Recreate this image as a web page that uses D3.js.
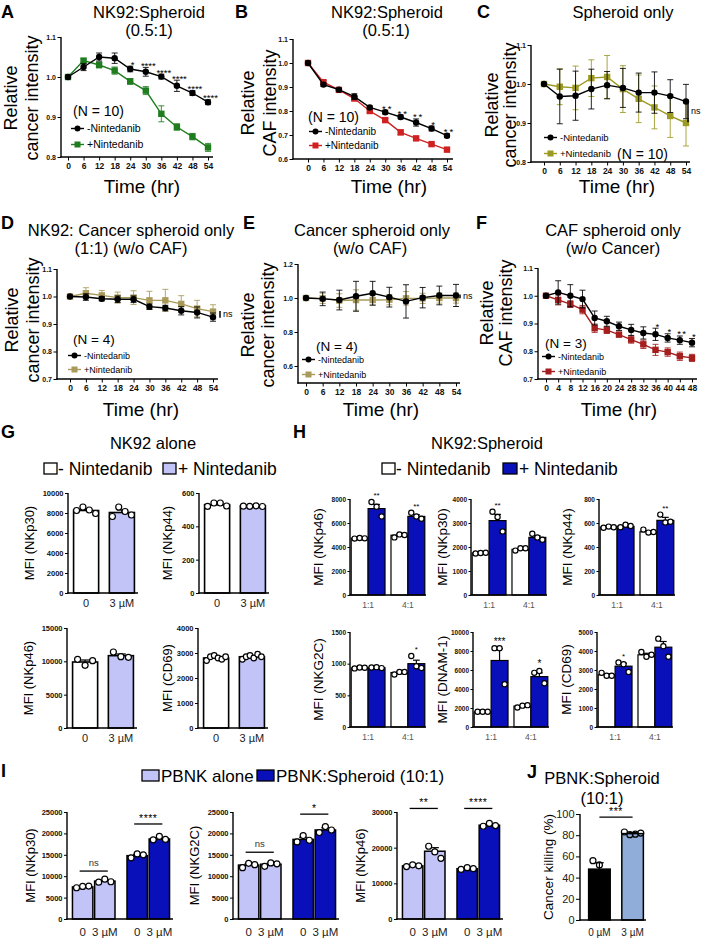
<!DOCTYPE html>
<html><head><meta charset="utf-8">
<script src="https://cdn.jsdelivr.net/npm/d3@7"></script>
<style>body{margin:0;background:#fff} svg{display:block}</style>
</head><body><svg id="c" width="702" height="938"></svg>
<script>
// ---------------- DATA ----------------
const timesAE = [0,6,12,18,24,30,36,42,48,54];
const timesF = [0,4,8,12,16,20,24,28,32,36,40,44,48];

const aMinus = [1.000,1.025,1.050,1.047,1.020,1.013,1.001,0.978,0.960,0.937];
const aMinusErr = [0,0.009,0.010,0.013,0.007,0.011,0.006,0.014,0.006,0.006];
const aPlus = [1.000,1.041,1.030,1.016,0.989,0.966,0.908,0.875,0.851,0.824];
const aPlusErr = [0,0.004,0.007,0.009,0.007,0.010,0.020,0.008,0.008,0.010];
const aStars = ["","","","","*","****","****","****","****","****"];

const bMinus = [1.000,0.910,0.889,0.860,0.815,0.795,0.775,0.752,0.727,0.697];
const bMinusErr = [0,0.008,0.004,0.012,0.006,0.008,0.008,0.015,0.010,0.008];
const bPlus = [1.000,0.920,0.888,0.852,0.800,0.762,0.711,0.686,0.662,0.639];
const bPlusErr = [0,0.006,0.004,0.008,0.006,0.007,0.010,0.006,0.005,0.005];
const bStars = ["","","","","","**","**","**","*","**"];

const cMinus = [1.000,0.968,0.970,0.987,0.997,0.990,0.978,0.978,0.969,0.955];
const cMinusErr = [0,0.070,0.063,0.051,0.035,0.050,0.050,0.053,0.042,0.044];
const cPlus = [1.000,0.993,0.990,1.015,1.018,0.987,0.962,0.940,0.918,0.900];
const cPlusErr = [0,0.046,0.056,0.047,0.055,0.060,0.061,0.055,0.055,0.059];

const dMinus = [1.000,0.998,0.992,0.990,0.990,0.963,0.958,0.948,0.942,0.925];
const dMinusErr = [0,0.012,0.008,0.012,0.012,0.010,0.010,0.015,0.020,0.015];
const dPlus = [1.000,1.012,1.004,0.996,0.996,0.986,0.986,0.973,0.956,0.945];
const dPlusErr = [0,0.020,0.018,0.020,0.025,0.033,0.040,0.030,0.030,0.025];

const eMinus = [1.000,0.995,0.988,1.010,1.028,1.005,0.980,1.002,1.015,1.015];
const eMinusErr = [0,0.040,0.058,0.088,0.070,0.058,0.098,0.060,0.055,0.065];
const ePlus = [1.000,0.998,0.985,0.988,0.988,0.990,0.998,0.998,1.000,1.000];
const ePlusErr = [0,0.030,0.040,0.060,0.030,0.030,0.040,0.030,0.030,0.030];

const fMinus = [1.000,1.012,1.000,0.988,0.920,0.908,0.890,0.877,0.866,0.861,0.848,0.840,0.831];
const fMinusErr = [0,0.042,0.040,0.032,0.025,0.018,0.015,0.020,0.022,0.022,0.015,0.015,0.015];
const fPlus = [1.000,0.985,0.970,0.950,0.883,0.876,0.860,0.842,0.825,0.805,0.797,0.782,0.776];
const fPlusErr = [0,0.018,0.012,0.015,0.015,0.012,0.008,0.013,0.015,0.020,0.015,0.015,0.013];
const fStars = ["","","","","","","","","","*","*","**","*"];

// G: NK92 alone (0, 3 µM)
const gCats = ["0","3 µM"];
const gNKp30 = [8250,8050], gNKp30Err = [150,250], gNKp30Dots = [[8250,8600,8300,7950],[7650,8600,8150,7800]];
const gNKp44 = [530,522], gNKp44Err = [6,2], gNKp44Dots = [[520,540,540,522],[521,520,523,519]];
const gNKp46 = [9900,10850], gNKp46Err = [300,250], gNKp46Dots = [[10300,9400,10100],[11400,10700,10600]];
const gCD69 = [2800,2850], gCD69Err = [40,40], gCD69Dots = [[2700,2850,2900,2800,2750,2850],[2750,2850,2900,2800,2950,2850]];

// H: NK92:Spheroid  order: [1:1 -, 1:1 +, 4:1 -, 4:1 +]
const hGroups = ["1:1","4:1"];
const hNKp46 = [4730,7200,4980,6550], hNKp46Err = [20,350,80,150], hNKp46Dots = [[4700,4750,4720],[7750,7350,6550],[4800,5050,5000],[6850,6550,6350]];
const hNKp30 = [1750,3100,1900,2400], hNKp30Err = [10,260,40,60], hNKp30Dots = [[1730,1750,1760],[3470,3250,2650],[1850,1950,1950],[2550,2400,2300]];
const hNKp44 = [565,572,527,622], hNKp44Err = [3,5,8,25], hNKp44Dots = [[560,570,565],[565,585,575],[545,520,525],[670,605,610]];
const hNKG2C = [932,936,860,1000], hNKG2C_Err = [5,5,12,55], hNKG2CDots = [[925,940,935],[940,945,930],[830,870,870],[1120,960,930]];
const hDNAM = [1600,7000,2200,5300], hDNAMErr = [10,1250,70,400], hDNAMDots = [[1600,1600,1600],[8300,8300,4500],[2050,2250,2300],[5700,5900,4600]];
const hCD69 = [2750,3200,3800,4200], hCD69Err = [50,150,80,300], hCD69Dots = [[2850,2700,2700],[3400,3300,2900],[3950,3700,3800],[4650,4250,3700]];
const hNKp46Stars = ["","**","","**"], hNKp30Stars = ["","**","",""], hNKp44Stars = ["","","","**"];
const hNKG2CStars = ["","","","*"], hDNAMStars = ["","***","","*"], hCD69Stars = ["","*","",""];

// I: PBNK  order: [alone 0, alone 3 µM, spheroid 0, spheroid 3 µM]
const iGroups = ["PBNK alone","PBNK:Spheroid (10:1)"];
const iDoses = ["0","3 µM"];
const iNKp30 = [7500,8850,14800,18700], iNKp30Err = [150,250,300,250], iNKp30Dots = [[7300,7600,7700],[8600,9300,8700],[14300,15200,15000],[18500,19300,18600]];
const iNKG2C = [12600,12800,18600,20800], iNKG2CErr = [300,250,500,500], iNKG2CDots = [[12000,13000,12700],[12300,13100,12900],[18000,19500,18400],[20200,21600,20800]];
const iNKp46 = [14900,19000,14100,26300], iNKp46Err = [200,1000,200,300], iNKp46Dots = [[14700,15200,14900],[20400,18800,17000],[13900,14400,14100],[26000,26800,26200]];
const iNKp30Sig = [{g:0,label:"ns",v:11200},{g:1,label:"****",v:22200}];
const iNKG2CSig = [{g:0,label:"ns",v:15600},{g:1,label:"*",v:24500}];
const iNKp46Sig = [{g:0,label:"**",v:31000},{g:1,label:"****",v:31000}];

// J: Cancer killing
const jCats = ["0 µM","3 µM"];
const jKill = [48,81.5], jKillErr = [6,1], jKillDots = [[56,52,36],[83,80.5,81,82]];
const jSig = {label:"***", v:97};

// ---------------- DRAWING ----------------
const FONT = "Arial, 'Liberation Sans', Helvetica, sans-serif";
const svg = d3.select("#c").attr("font-family", FONT);
const GREEN="#1f7d1f", RED="#cf2121", OLIVE="#9c9a22", KHAKI="#a99a5a", DRED="#a51d1d";
const LAV="#c2c3f7", BLUE="#0a10b9", STEEL="#8fadd8";

function txt(x,y,s,o={}){
  const t = svg.append("text").attr("x",x).attr("y",y).text(s)
    .attr("font-size",o.size||12).attr("font-weight",o.weight||"normal")
    .attr("text-anchor",o.anchor||"start").attr("fill",o.fill||"#000");
  if(o.rot) t.attr("transform",`rotate(-90,${x},${y})`);
  if(o.db) t.attr("dominant-baseline",o.db);
  if(o.ls) t.attr("letter-spacing",o.ls);
  return t;
}
function styleAxis(sel,size,weight,fill){
  sel.attr("font-family",FONT);
  sel.selectAll("text").attr("font-size",size).attr("font-weight",weight).attr("fill",fill||"#111");
  sel.selectAll(".tick line").attr("stroke","#000").attr("stroke-width",1);
}
function marker(g,shape,cx,cy,c,sz){
  if(shape==="circle") g.append("circle").attr("cx",cx).attr("cy",cy).attr("r",sz/2).attr("fill",c);
  else g.append("rect").attr("x",cx-sz/2).attr("y",cy-sz/2).attr("width",sz).attr("height",sz).attr("fill",c);
}

function lineChart(o){
  const g = svg.append("g");
  const x = d3.scaleLinear().domain([o.times[0],o.times[o.times.length-1]]).range(o.xr);
  const y = d3.scaleLinear().domain(o.yd).range(o.yr);
  const ya = g.append("g").attr("transform",`translate(${o.ax},0)`)
    .call(d3.axisLeft(y).tickValues(o.yt).tickFormat(d3.format(".1f")).tickSize(3.5).tickPadding(1.5));
  ya.select(".domain").remove(); styleAxis(ya,7,"bold");
  g.append("line").attr("x1",o.ax).attr("x2",o.ax).attr("y1",y(o.yd[1])).attr("y2",y(o.yd[0])+0.6).attr("stroke","#000").attr("stroke-width",1.4);
  const xa = g.append("g").attr("transform",`translate(0,${y(o.yd[0])})`)
    .call(d3.axisBottom(x).tickValues(o.times).tickFormat(d3.format("d")).tickSize(3.5).tickPadding(2.5));
  xa.select(".domain").remove(); styleAxis(xa,8.5,"bold");
  g.append("line").attr("x1",o.ax-0.7).attr("x2",o.axEnd).attr("y1",y(o.yd[0])).attr("y2",y(o.yd[0])).attr("stroke","#000").attr("stroke-width",1.4);
  o.series.forEach(s=>{
    const pts = o.times.map((t,i)=>({t,v:s.v[i],e:s.e[i]}));
    pts.forEach(p=>{
      if(p.e>0){
        const cx=x(p.t);
        g.append("line").attr("x1",cx).attr("x2",cx).attr("y1",y(p.v-p.e)).attr("y2",y(p.v+p.e)).attr("stroke",s.c).attr("stroke-width",1).attr("opacity",0.85);
        [p.v-p.e,p.v+p.e].forEach(vv=>g.append("line").attr("x1",cx-3).attr("x2",cx+3).attr("y1",y(vv)).attr("y2",y(vv)).attr("stroke",s.c).attr("stroke-width",1).attr("opacity",0.85));
      }
    });
    g.append("path").datum(pts).attr("d",d3.line().x(p=>x(p.t)).y(p=>y(p.v))).attr("fill","none").attr("stroke",s.c).attr("stroke-width",1.4);
    pts.forEach(p=>marker(g,s.shape,x(p.t),y(p.v),s.c,6.4));
  });
  if(o.stars){
    const ref = o.series[o.starRef];
    o.stars.forEach((st,i)=>{ if(st) txt(x(o.times[i])+2.5, y(ref.v[i]+ref.e[i])+1.5, st, {size:9.5,anchor:"middle",ls:o.starLs||0}); });
  }
  if(o.ns){
    const [v1,v2] = o.ns.vals;
    g.append("line").attr("x1",o.ns.x).attr("x2",o.ns.x).attr("y1",y(v1)).attr("y2",y(v2)).attr("stroke","#000").attr("stroke-width",1.5);
    txt(o.ns.x+3, (y(v1)+y(v2))/2+3, "ns", {size:9});
  }
  const L=o.leg;
  [[L.y1,"-Nintedanib",o.series[o.starRef]],[L.y2,"+Nintedanib",o.series[1-o.starRef]]].forEach(([yy,lab,s])=>{
    g.append("line").attr("x1",L.x).attr("x2",L.x+13).attr("y1",yy-3.5).attr("y2",yy-3.5).attr("stroke",s.c).attr("stroke-width",1.4);
    marker(g,s.shape,L.x+6.5,yy-3.5,s.c,6);
    txt(L.x+16,yy,lab,{size:L.size});
  });
  txt(L.nx,L.ny,L.nlab,{size:L.nsize});
  o.title.forEach(t=>txt(t[0],t[1],t[2],{size:16.5,anchor:"middle"}));
  txt(o.letter[0],o.letter[1],o.letter[2],{size:18,weight:"bold"});
  txt(o.timeX,o.timeY,"Time (hr)",{size:19,anchor:"middle"});
  o.ylab.forEach(t=>txt(t[0],t[1],t[2],{size:18,anchor:"middle",rot:true,db:"central"}));
}

lineChart({times:timesAE, ax:61, axEnd:213, xr:[68,208], yd:[0.8,1.1], yr:[157,37], yt:[0.8,0.9,1.0,1.1],
  series:[{v:aPlus,e:aPlusErr,c:GREEN,shape:"square"},{v:aMinus,e:aMinusErr,c:"#000",shape:"circle"}], starRef:1, stars:aStars,
  leg:{x:71,y1:132,y2:148,size:10.5,nx:73,ny:116,nsize:14,nlab:"(N = 10)"},
  title:[[149,18,"NK92:Spheroid"],[149,36,"(0.5:1)"]], letter:[1,18,"A"], timeX:142, timeY:193,
  ylab:[[11,98,"Relative"],[32,98,"cancer intensity"]]});
lineChart({times:timesAE, ax:293, axEnd:453, xr:[308,447], yd:[0.6,1.1], yr:[159,39], yt:[0.6,0.7,0.8,0.9,1.0,1.1],
  series:[{v:bPlus,e:bPlusErr,c:RED,shape:"square"},{v:bMinus,e:bMinusErr,c:"#000",shape:"circle"}], starRef:1, stars:bStars, starLs:2,
  leg:{x:309,y1:135,y2:149,size:10,nx:308,ny:122,nsize:14,nlab:"(N = 10)"},
  title:[[387,18,"NK92:Spheroid"],[386,36,"(0.5:1)"]], letter:[235,18,"B"], timeX:389, timeY:193,
  ylab:[[248,103,"Relative"],[270,103,"CAF intensity"]]});
lineChart({times:timesAE, ax:531, axEnd:690, xr:[544,686], yd:[0.8,1.1], yr:[162,45], yt:[0.8,0.9,1.0,1.1],
  series:[{v:cPlus,e:cPlusErr,c:OLIVE,shape:"square"},{v:cMinus,e:cMinusErr,c:"#000",shape:"circle"}], starRef:1,
  ns:{x:688,vals:[0.958,0.902]},
  leg:{x:544,y1:141,y2:157,size:9.5,nx:617,ny:159,nsize:14,nlab:"(N = 10)"},
  title:[[623,18,"Spheroid only"]], letter:[477,18,"C"], timeX:617, timeY:193,
  ylab:[[492,105,"Relative"],[510,105,"cancer intensity"]]});
lineChart({times:timesAE, ax:57, axEnd:218, xr:[70,213], yd:[0.7,1.1], yr:[379,269], yt:[0.7,0.8,0.9,1.0,1.1],
  series:[{v:dPlus,e:dPlusErr,c:KHAKI,shape:"square"},{v:dMinus,e:dMinusErr,c:"#000",shape:"circle"}], starRef:1,
  ns:{x:220,vals:[0.947,0.923]},
  leg:{x:68,y1:359,y2:373,size:9,nx:73,ny:344,nsize:13.5,nlab:"(N = 4)"},
  title:[[131,236,"NK92: Cancer spheroid only"],[131,254,"(1:1) (w/o CAF)"]], letter:[1,229,"D"], timeX:141, timeY:416,
  ylab:[[12,320,"Relative"],[33,320,"cancer intensity"]]});
lineChart({times:timesAE, ax:298, axEnd:460, xr:[306,456], yd:[0.5,1.2], yr:[383,264], yt:[0.6,0.8,1.0,1.2],
  series:[{v:ePlus,e:ePlusErr,c:KHAKI,shape:"square"},{v:eMinus,e:eMinusErr,c:"#000",shape:"circle"}], starRef:1,
  ns:{x:460,vals:[1.020,0.998]},
  leg:{x:302,y1:363,y2:378,size:9,nx:316,ny:351,nsize:13.5,nlab:"(N = 4)"},
  title:[[372,236,"Cancer spheroid only"],[370,254,"(w/o CAF)"]], letter:[243,229,"E"], timeX:381, timeY:416,
  ylab:[[248,325,"Relative"],[268,325,"cancer intensity"]]});
lineChart({times:timesF, ax:538, axEnd:697, xr:[546,692], yd:[0.7,1.1], yr:[379,268], yt:[0.7,0.8,0.9,1.0,1.1],
  series:[{v:fPlus,e:fPlusErr,c:DRED,shape:"square"},{v:fMinus,e:fMinusErr,c:"#000",shape:"circle"}], starRef:1, stars:fStars, starLs:1.5,
  leg:{x:542,y1:360,y2:375,size:9,nx:545,ny:348,nsize:13.5,nlab:"(N = 3)"},
  title:[[613,236,"CAF spheroid only"],[613,254,"(w/o Cancer)"]], letter:[476,229,"F"], timeX:619, timeY:416,
  ylab:[[487,313,"Relative"],[506,313,"CAF intensity"]]});

// ---------------- BAR CHARTS ----------------
function barChart(o){
  const y = d3.scaleLinear().domain([0,o.ymax]).range([o.yBot,o.yTop]);
  const gx = d3.scaleBand().domain(o.groups).range([o.ax+o.r0,o.ax+o.r1]).paddingInner(o.pin).paddingOuter(o.pout);
  const sx = d3.scaleBand().domain(d3.range(o.nsub)).range([0,gx.bandwidth()]).paddingInner(o.sin||0);
  const ya = svg.append("g").attr("transform",`translate(${o.ax},0)`)
    .call(d3.axisLeft(y).tickValues(o.yt).tickFormat(d3.format("d")).tickSize(o.tick||3).tickPadding(1.5));
  ya.select(".domain").remove(); styleAxis(ya,o.tf,o.tw,o.tfill);
  const centers=[];
  o.means.forEach((m,i)=>{
    const gi=Math.floor(i/o.nsub), si=i%o.nsub;
    const w=sx.bandwidth(), x0=gx(o.groups[gi])+sx(si), cx=x0+w/2;
    centers.push(cx);
    svg.append("rect").attr("x",x0).attr("y",y(m)).attr("width",w).attr("height",o.yBot-y(m))
      .attr("fill",o.fills[i]).attr("stroke","#000").attr("stroke-width",o.bsw||1.4);
    const e=o.errs[i];
    if(e>0){
      svg.append("line").attr("x1",cx).attr("x2",cx).attr("y1",y(m)).attr("y2",y(m+e)).attr("stroke","#000").attr("stroke-width",1.2);
      svg.append("line").attr("x1",cx-w*0.2).attr("x2",cx+w*0.2).attr("y1",y(m+e)).attr("y2",y(m+e)).attr("stroke","#000").attr("stroke-width",1.2);
    }
    const d=o.dots[i], n=d.length, s=n<=3?0.3:0.38;
    d.forEach((v,k)=>{
      const dx = n===1?0:(-s+2*s*k/(n-1))*w;
      svg.append("circle").attr("cx",cx+dx).attr("cy",y(v)).attr("r",o.dr||3)
        .attr("fill",o.dotFill||"#fff").attr("stroke","#000").attr("stroke-width",1.2);
    });
    if(o.stars && o.stars[i]){
      const top=Math.max(m+e,...d);
      txt(cx,y(top)-o.dr-1,o.stars[i],{size:o.starSize||8,anchor:"middle"});
    }
  });
  svg.append("line").attr("x1",o.ax).attr("x2",o.ax).attr("y1",o.yTop).attr("y2",o.yBot+0.7).attr("stroke","#000").attr("stroke-width",1.4);
  svg.append("line").attr("x1",o.ax-0.7).attr("x2",o.ax+o.axLen).attr("y1",o.yBot).attr("y2",o.yBot).attr("stroke","#000").attr("stroke-width",1.4);
  if(o.xlabMode==="group"){
    o.groups.forEach((gname,gi)=>txt(gx(gname)+gx.bandwidth()/2,o.xlabY,o.xlabels?o.xlabels[gi]:gname,{size:o.xf,anchor:"middle",fill:o.xfill||"#222"}));
  } else {
    centers.forEach((c,i)=>txt(c,o.xlabY,o.xlabels[i%o.nsub],{size:o.xf,anchor:"middle",fill:o.xfill||"#222"}));
  }
  if(o.sig){
    o.sig.forEach(sg=>{
      const c1=centers[sg.g*o.nsub]-3, c2=centers[sg.g*o.nsub+o.nsub-1]+3;
      svg.append("line").attr("x1",c1).attr("x2",c2).attr("y1",y(sg.v)).attr("y2",y(sg.v)).attr("stroke","#000").attr("stroke-width",1.3);
      const isNs = sg.label==="ns";
      txt((c1+c2)/2,y(sg.v)-(isNs?5:2),sg.label,{size:isNs?9.5:10.5,anchor:"middle",fill:isNs?"#333":"#000",ls:isNs?0:0.5});
    });
  }
  txt(o.ylabX,(o.yTop+o.yBot)/2,o.ylabel,{size:o.yls||13,anchor:"middle",rot:true,db:"central"});
  return {y,centers};
}

// ---- Panel G
txt(1,438,"G",{size:18,weight:"bold"});
txt(153,449,"NK92 alone",{size:16.5,anchor:"middle"});
svg.append("rect").attr("x",44).attr("y",463).attr("width",13).attr("height",11).attr("fill","#fff").attr("stroke","#000").attr("stroke-width",1.3);
txt(58,475,"- Nintedanib",{size:17.5});
svg.append("rect").attr("x",163).attr("y",463).attr("width",13).attr("height",11).attr("fill",LAV).attr("stroke","#000").attr("stroke-width",1.3);
txt(178,475,"+ Nintedanib",{size:17.5});
const gBase = {groups:gCats,nsub:1,r0:2,r1:70,pin:0.3,pout:0.1,axLen:70,tf:7.5,tw:"bold",xlabMode:"group",xf:11,fills:["#fff",LAV],bsw:1.6,dr:3};
barChart({...gBase,ax:68,yTop:493,yBot:593,ymax:10000,yt:[0,2000,4000,6000,8000,10000],means:gNKp30,errs:gNKp30Err,dots:gNKp30Dots,xlabY:607,ylabel:"MFI (NKp30)",ylabX:29});
barChart({...gBase,ax:199,yTop:493,yBot:593,ymax:600,yt:[0,200,400,600],means:gNKp44,errs:gNKp44Err,dots:gNKp44Dots,xlabY:607,ylabel:"MFI (NKp44)",ylabX:167});
barChart({...gBase,ax:67,yTop:628,yBot:728,ymax:15000,yt:[0,5000,10000,15000],means:gNKp46,errs:gNKp46Err,dots:gNKp46Dots,xlabY:742,ylabel:"MFI (NKp46)",ylabX:28});
barChart({...gBase,ax:198,yTop:628,yBot:728,ymax:4000,yt:[0,1000,2000,3000,4000],means:gCD69,errs:gCD69Err,dots:gCD69Dots,xlabY:742,ylabel:"MFI (CD69)",ylabX:167,dr:2.8});

// ---- Panel H
txt(293,438,"H",{size:18,weight:"bold"});
txt(487,449,"NK92:Spheroid",{size:16.5,anchor:"middle"});
svg.append("rect").attr("x",382).attr("y",463).attr("width",13).attr("height",11).attr("fill","#fff").attr("stroke","#000").attr("stroke-width",1.3);
txt(396,475,"- Nintedanib",{size:17.5});
svg.append("rect").attr("x",503).attr("y",463).attr("width",14).attr("height",11).attr("fill",BLUE).attr("stroke","#000").attr("stroke-width",1.3);
txt(519,475,"+ Nintedanib",{size:17.5});
const hBase = {groups:hGroups,nsub:2,r0:0,r1:76,pin:0.15,pout:0.03,axLen:76,tf:6.5,tw:"bold",xlabMode:"group",xf:8.5,xfill:"#555",fills:["#fff",BLUE,"#fff",BLUE],bsw:1.2,dr:2.6,starSize:8,yls:13.5,tick:2.5};
barChart({...hBase,ax:350,yTop:499,yBot:595,ymax:8000,yt:[0,2000,4000,6000,8000],means:hNKp46,errs:hNKp46Err,dots:hNKp46Dots,stars:hNKp46Stars,xlabY:608,ylabel:"MFI (NKp46)",ylabX:318});
barChart({...hBase,ax:471,yTop:499,yBot:595,ymax:4000,yt:[0,1000,2000,3000,4000],means:hNKp30,errs:hNKp30Err,dots:hNKp30Dots,stars:hNKp30Stars,xlabY:608,ylabel:"MFI (NKp30)",ylabX:442});
barChart({...hBase,ax:599,yTop:499,yBot:595,ymax:800,yt:[0,200,400,600,800],means:hNKp44,errs:hNKp44Err,dots:hNKp44Dots,stars:hNKp44Stars,xlabY:608,ylabel:"MFI (NKp44)",ylabX:567});
barChart({...hBase,ax:350,yTop:632,yBot:727,ymax:1500,yt:[0,500,1000,1500],means:hNKG2C,errs:hNKG2C_Err,dots:hNKG2CDots,stars:hNKG2CStars,xlabY:740,ylabel:"MFI (NKG2C)",ylabX:318});
barChart({...hBase,ax:473,yTop:632,yBot:727,ymax:10000,yt:[0,2000,4000,6000,8000,10000],means:hDNAM,errs:hDNAMErr,dots:hDNAMDots,stars:hDNAMStars,xlabY:740,ylabel:"MFI (DNAM-1)",ylabX:442,starSize:10});
barChart({...hBase,ax:597,yTop:632,yBot:727,ymax:5000,yt:[0,1000,2000,3000,4000,5000],means:hCD69,errs:hCD69Err,dots:hCD69Dots,stars:hCD69Stars,xlabY:740,ylabel:"MFI (CD69)",ylabX:566});

// ---- Panel I
txt(1,777,"I",{size:18,weight:"bold"});
svg.append("rect").attr("x",142).attr("y",770).attr("width",17).attr("height",11).attr("fill",LAV).attr("stroke","#000").attr("stroke-width",1.3);
txt(161,782,iGroups[0],{size:17});
svg.append("rect").attr("x",257).attr("y",770).attr("width",17).attr("height",11).attr("fill",BLUE).attr("stroke","#000").attr("stroke-width",1.3);
txt(276,782,iGroups[1],{size:17});
const iBase = {groups:iGroups,nsub:2,r0:0,r1:108,pin:0.22,pout:0.1,sin:0.08,axLen:106,tf:7.5,tw:"bold",xlabMode:"bar",xlabels:iDoses,xf:11.5,fills:[LAV,LAV,BLUE,BLUE],bsw:1.5,dr:3,yTop:812,yBot:919,xlabY:936};
barChart({...iBase,ax:67,ymax:25000,yt:[0,5000,10000,15000,20000,25000],means:iNKp30,errs:iNKp30Err,dots:iNKp30Dots,sig:iNKp30Sig,ylabel:"MFI (NKp30)",ylabX:30});
barChart({...iBase,ax:233,ymax:25000,yt:[0,5000,10000,15000,20000,25000],means:iNKG2C,errs:iNKG2CErr,dots:iNKG2CDots,sig:iNKG2CSig,ylabel:"MFI (NKG2C)",ylabX:194});
barChart({...iBase,ax:397,ymax:30000,yt:[0,10000,20000,30000],means:iNKp46,errs:iNKp46Err,dots:iNKp46Dots,sig:iNKp46Sig,ylabel:"MFI (NKp46)",ylabX:360});

// ---- Panel J
txt(527,778,"J",{size:18,weight:"bold"});
txt(602,784,"PBNK:Spheroid",{size:16.5,anchor:"middle"});
txt(602,804,"(10:1)",{size:16.5,anchor:"middle"});
const jr = barChart({groups:jCats,nsub:1,r0:2,r1:70,pin:0.35,pout:0.2,axLen:66,tf:11,tw:"normal",tfill:"#222",tick:4,xlabMode:"group",xf:10,fills:["#000",STEEL],bsw:1.5,dr:3,dotFill:"none",
  ax:580,yTop:814,yBot:920,ymax:100,yt:[0,20,40,60,80,100],means:jKill,errs:jKillErr,dots:jKillDots,xlabY:936,ylabel:"Cancer killing (%)",ylabX:548,yls:13.5});
svg.append("line").attr("x1",jr.centers[0]).attr("x2",jr.centers[1]).attr("y1",jr.y(jSig.v)).attr("y2",jr.y(jSig.v)).attr("stroke","#000").attr("stroke-width",1.3);
txt((jr.centers[0]+jr.centers[1])/2,jr.y(jSig.v)-2,jSig.label,{size:10.5,anchor:"middle",ls:0.5});
</script>
</body></html>
